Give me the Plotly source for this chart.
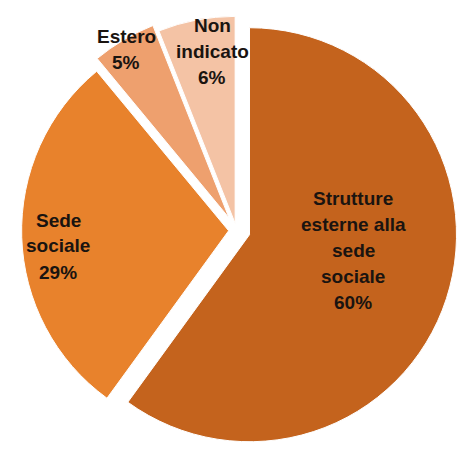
import plotly.graph_objects as go

# Distribution of sites
labels = ["Strutture esterne alla sede sociale", "Sede sociale", "Estero", "Non indicato"]
values = [60, 29, 5, 6]
label_lines = [
    ["Strutture", "esterne alla", "sede", "sociale"],
    ["Sede", "sociale"],
    ["Estero"],
    ["Non", "indicato"],
]

# Styling
colors = ["#C4631D", "#E8822C", "#EEA06E", "#F4C3A5"]
pulls = [0.066, 0.038, 0.07, 0.035]
W, H = 464, 452
# centre of each label block, in pixels from the top-left corner
label_pos = [(353, 250), (58, 246), (126, 50), (212, 51)]
line_step = 26
font = dict(family="Liberation Sans, Arial, sans-serif", size=19, color="#1a1410")

fig = go.Figure(
    go.Pie(
        labels=labels,
        values=values,
        sort=False,
        direction="clockwise",
        rotation=0,
        pull=pulls,
        marker=dict(colors=colors, line=dict(color="white", width=1)),
        textinfo="none",
        hoverinfo="label+percent",
        showlegend=False,
        domain=dict(x=[15 / W, 458 / W], y=[0, 1 - 9 / H]),
    )
)

total = sum(values)
annotations = []
for lines, v, (px, py) in zip(label_lines, values, label_pos):
    block = lines + [f"{round(100 * v / total)}%"]
    n = len(block)
    for i, line in enumerate(block):
        y_px = py + (i - (n - 1) / 2) * line_step
        annotations.append(
            dict(
                x=px / W,
                y=1 - y_px / H,
                xref="paper",
                yref="paper",
                text=f"<b>{line}</b>",
                showarrow=False,
                font=font,
                xanchor="center",
                yanchor="middle",
            )
        )

fig.update_layout(
    width=W,
    height=H,
    margin=dict(l=0, r=0, t=0, b=0),
    paper_bgcolor="white",
    plot_bgcolor="white",
    annotations=annotations,
)

fig.write_html("out.html")
